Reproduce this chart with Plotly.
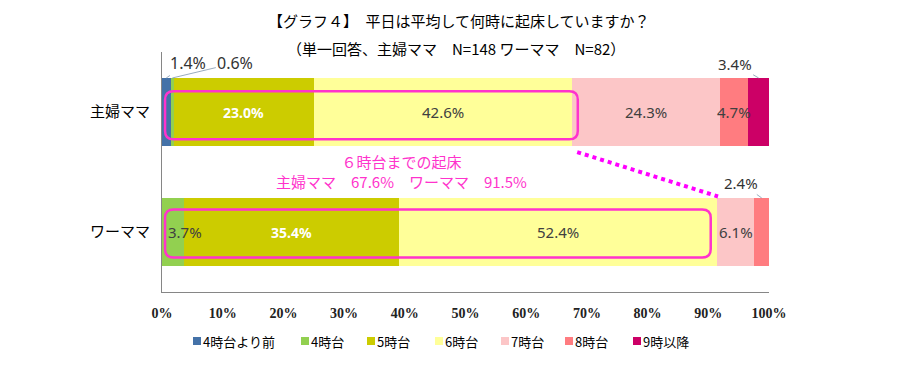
import plotly.graph_objects as go

# ---------------- data ----------------
categories = ["主婦ママ", "ワーママ"]
series_names = ["4時台より前", "4時台", "5時台", "6時台", "7時台", "8時台", "9時以降"]
housewife = [1.4, 0.6, 23.0, 42.6, 24.3, 4.7, 3.4]
working = [0.0, 3.7, 35.4, 52.4, 6.1, 2.4, 0.0]
x_tick_values = [0, 10, 20, 30, 40, 50, 60, 70, 80, 90, 100]
x_tick_labels = ["0%", "10%", "20%", "30%", "40%", "50%", "60%", "70%", "80%", "90%", "100%"]
title_line1 = "【グラフ４】　平日は平均して何時に起床していますか？"
title_line2 = "（単一回答、主婦ママ　N=148 ワーママ　N=82）"
note_line1 = "６時台までの起床"
note_line2 = "主婦ママ　67.6%　ワーママ　91.5%"

# ---------------- style ----------------
colors = ["#4472a8", "#92d050", "#cccc00", "#ffff99", "#fcc6c7", "#ff7c80", "#cc0066"]
label_colors = ["#404040", "#404040", "#ffffff", "#404040", "#404040", "#404040", "#404040"]
legend_px = [193, 301, 367, 435, 501, 565, 633]   # left edge of each legend swatch (pixels)
pink = "#ff33cc"
JP = "Noto Sans CJK JP"
NUM = "Noto Sans, Noto Sans CJK JP"
BARGAP = 0.433
W, H = 909, 371
ML, MR, MT, MB = 162, 140, 52, 79
PW, PH = W - ML - MR, H - MT - MB

values = [housewife, working]

fig = go.Figure()
for i, name in enumerate(series_names):
    fig.add_trace(go.Bar(
        y=categories,
        x=[housewife[i], working[i]],
        name=name,
        orientation="h",
        marker=dict(color=colors[i], line=dict(width=0)),
        hoverinfo="name+x",
    ))


def y_center(idx):
    return 1 - (idx + 0.5) / len(categories)


def px_to_paper_x(px):
    return (px - ML) / PW


def px_to_paper_y(py):
    return (H - MB - py) / PH


half_bar = (1 - BARGAP) / 2 / len(categories)

annotations = []
shapes = []

# leader-line labels for small segments: (group, series, ax, ay)
leaders = [(0, 0, 22, -15), (0, 1, 63, -15), (0, 6, -24, -14), (1, 5, -21, -15)]
leader_keys = {(g, s) for g, s, _, _ in leaders}
for g, s, ax, ay in leaders:
    start = sum(values[g][:s])
    mid = start + values[g][s] / 2
    annotations.append(dict(
        x=mid, y=y_center(g) + half_bar, xref="x", yref="paper",
        text=f"{values[g][s]:.1f}%", showarrow=True, arrowhead=0,
        arrowwidth=0.8, arrowcolor="#7f95ad", ax=ax, ay=ay, standoff=0,
        font=dict(family=NUM, size=16 if g == 0 and s < 2 else 15, color="#333333"),
    ))

# inside labels
for g in range(len(categories)):
    for s in range(len(series_names)):
        v = values[g][s]
        if v == 0 or (g, s) in leader_keys:
            continue
        start = sum(values[g][:s])
        white = label_colors[s] == "#ffffff"
        ann = dict(
            x=start + v / 2, y=y_center(g), xref="x", yref="paper",
            text=f"<b>{v:.1f}%</b>" if white else f"{v:.1f}%",
            showarrow=False, yanchor="middle",
            font=dict(family=NUM, size=14 if white else 15, color=label_colors[s]),
        )
        if s == 1:
            ann.update(x=start, xanchor="left", xshift=4)
        annotations.append(ann)

# titles
annotations.append(dict(x=px_to_paper_x(459), y=px_to_paper_y(20), xref="paper", yref="paper",
                        text=title_line1, showarrow=False, yanchor="middle",
                        font=dict(family=JP, size=15, color="#000000")))
annotations.append(dict(x=px_to_paper_x(456), y=px_to_paper_y(48), xref="paper", yref="paper",
                        text=title_line2, showarrow=False, yanchor="middle",
                        font=dict(family=JP, size=15, color="#000000")))

# pink note
annotations.append(dict(x=px_to_paper_x(401), y=px_to_paper_y(171), xref="paper", yref="paper",
                        text=note_line1 + "<br>" + note_line2, showarrow=False, align="center",
                        yanchor="middle", font=dict(family=JP, size=15, color=pink)))


# rounded rectangles around bars up to 6時台
def rounded_rect(x0, x1, y0, y1, rx, ry):
    return (f"M{x0+rx},{y0} L{x1-rx},{y0} Q{x1},{y0} {x1},{y0+ry} "
            f"L{x1},{y1-ry} Q{x1},{y1} {x1-rx},{y1} L{x0+rx},{y1} "
            f"Q{x0},{y1} {x0},{y1-ry} L{x0},{y0+ry} Q{x0},{y0} {x0+rx},{y0} Z")


upto6 = [sum(v[:4]) for v in values]
rect_ends = [upto6[0] + 0.9, upto6[1] - 1.1]
for g in range(len(categories)):
    yc = y_center(g) - (0.014 if g == 0 else 0.006)
    shapes.append(dict(type="path", xref="x", yref="paper",
                       path=rounded_rect(0.5, rect_ends[g], yc - 0.1, yc + 0.1, 1.4, 0.035),
                       line=dict(color=pink, width=2.5)))

shapes.append(dict(type="line", xref="x", yref="paper",
                   x0=upto6[0] + 0.8, y0=0.583, x1=upto6[1] + 0.1, y1=0.398,
                   line=dict(color="#ff00ff", width=4, dash="dot")))

# legend (drawn manually: small swatch right before the text)
leg_y = px_to_paper_y(341)
sw = 8
for i, name in enumerate(series_names):
    x0 = px_to_paper_x(legend_px[i])
    x1 = px_to_paper_x(legend_px[i] + sw)
    shapes.append(dict(type="rect", xref="paper", yref="paper",
                       x0=x0, x1=x1, y0=leg_y - 4 / PH, y1=leg_y + 4 / PH,
                       fillcolor=colors[i], line=dict(width=0)))
    annotations.append(dict(x=x1, y=leg_y, xref="paper", yref="paper", text=name,
                            showarrow=False, xanchor="left", yanchor="middle", xshift=0,
                            font=dict(family=JP, size=13, color="#000000")))

fig.update_layout(
    width=W, height=H,
    margin=dict(l=ML, r=MR, t=MT, b=MB),
    paper_bgcolor="white", plot_bgcolor="white",
    barmode="stack", bargap=BARGAP,
    showlegend=False,
    xaxis=dict(range=[0, 100], tickvals=x_tick_values, ticktext=x_tick_labels,
               showline=True, linecolor="#868686", linewidth=1, showgrid=False,
               zeroline=False, ticks="", ticklabelstandoff=8,
               tickfont=dict(family="Liberation Serif", size=14, color="#222222", weight="bold")),
    yaxis=dict(type="category", categoryorder="array", categoryarray=categories,
               autorange="reversed", showline=True, linecolor="#868686", linewidth=1,
               showgrid=False, zeroline=False, ticks="", ticklabelstandoff=8,
               tickfont=dict(family=JP, size=15, color="#000000")),
    annotations=annotations,
    shapes=shapes,
)

fig.write_html("out.html", config={"displayModeBar": False},
               post_script="document.body.style.margin='0';")
